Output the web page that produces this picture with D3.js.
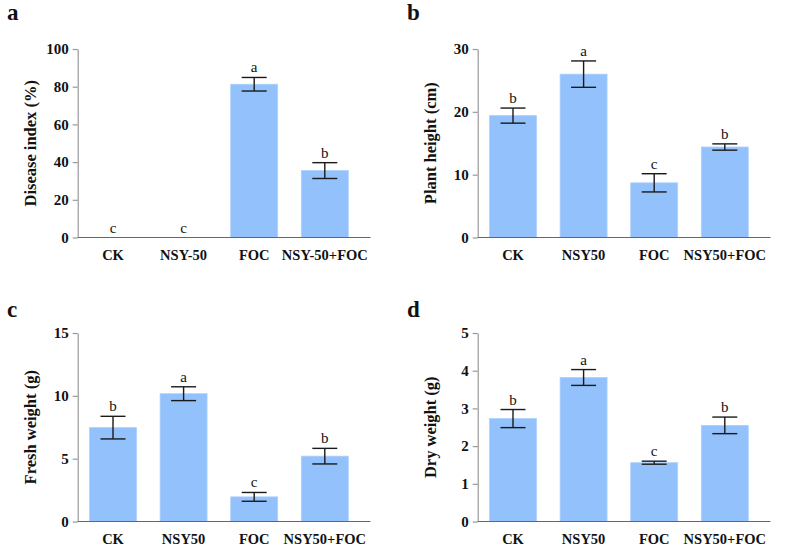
<!DOCTYPE html>
<html><head><meta charset="utf-8">
<script src="https://cdn.jsdelivr.net/npm/d3@7"></script>
<style>body{margin:0;background:#fff}svg{display:block}</style>
</head><body>
<svg id="c" width="787" height="547"></svg>
<script>
const catsA = ["CK","NSY-50","FOC","NSY-50+FOC"];
const catsB = ["CK","NSY50","FOC","NSY50+FOC"];

const diseaseMean = [0, 0, 81.3, 35.5];
const diseaseErr  = [0, 0, 3.6, 4.2];
const diseaseSig  = ["c","c","a","b"];

const heightMean = [19.4, 26.0, 8.7, 14.4];
const heightErr  = [1.2, 2.1, 1.45, 0.5];
const heightSig  = ["b","a","c","b"];

const freshMean = [7.47, 10.17, 1.96, 5.2];
const freshErr  = [0.9, 0.55, 0.35, 0.62];
const freshSig  = ["b","a","c","b"];

const dryMean = [2.73, 3.82, 1.56, 2.55];
const dryErr  = [0.24, 0.21, 0.04, 0.22];
const drySig  = ["b","a","c","b"];

const ticksA = [0,20,40,60,80,100];
const ticksB = [0,10,20,30];
const ticksC = [0,5,10,15];
const ticksD = [0,1,2,3,4,5];

const panels = [
  {letter:"a", cats:catsA, mean:diseaseMean, err:diseaseErr, sig:diseaseSig, ticks:ticksA, title:"Disease index (%)", ox:0, oy:0, ly:20},
  {letter:"b", cats:catsB, mean:heightMean, err:heightErr, sig:heightSig, ticks:ticksB, title:"Plant height (cm)", ox:400, oy:0, ly:20},
  {letter:"c", cats:catsB, mean:freshMean, err:freshErr, sig:freshSig, ticks:ticksC, title:"Fresh weight (g)", ox:0, oy:284, ly:317},
  {letter:"d", cats:catsB, mean:dryMean, err:dryErr, sig:drySig, ticks:ticksD, title:"Dry weight (g)", ox:400, oy:284, ly:317}
];

const svg = d3.select("#c");
const FONT = "'Liberation Serif','Times New Roman',serif";
const barColor = "#93c1fb";

panels.forEach(p => {
  const g = svg.append("g").attr("transform", `translate(${p.ox},${p.oy})`);
  const axX = 77.7, top = 49, bot = 237.5, axEnd = 370.5;
  const x = d3.scaleBand().domain(p.cats).range([axX, axX + 4*70.6]).paddingInner(0.335).paddingOuter(0.1675);
  const y = d3.scaleLinear().domain([0, d3.max(p.ticks)]).range([bot, top]);

  // panel letter
  svg.append("text").attr("x", p.ox + 7).attr("y", p.ly)
    .attr("font-family", FONT).attr("font-weight", "bold").attr("font-size", 23)
    .attr("fill", "#111").text(p.letter);

  // bars
  g.selectAll("rect.bar").data(p.cats).enter().append("rect")
    .attr("x", d => x(d)).attr("width", x.bandwidth())
    .attr("y", (d,i) => y(p.mean[i])).attr("height", (d,i) => bot - y(p.mean[i]))
    .attr("fill", barColor).attr("stroke", "#acd0fb").attr("stroke-width", 0.8);

  // error bars
  const cap = 12.5;
  p.cats.forEach((c,i) => {
    if (p.err[i] <= 0) return;
    const cx = x(c) + x.bandwidth()/2;
    const y1 = y(p.mean[i] + p.err[i]), y0 = y(p.mean[i] - p.err[i]);
    const eg = g.append("g").attr("stroke", "#1a1a1a").attr("stroke-width", 1.4);
    eg.append("line").attr("x1", cx).attr("x2", cx).attr("y1", y1).attr("y2", y0);
    eg.append("line").attr("x1", cx-cap).attr("x2", cx+cap).attr("y1", y1).attr("y2", y1);
    eg.append("line").attr("x1", cx-cap).attr("x2", cx+cap).attr("y1", y0).attr("y2", y0);
  });

  // significance letters
  g.selectAll("text.sig").data(p.cats).enter().append("text")
    .attr("x", d => x(d) + x.bandwidth()/2)
    .attr("y", (d,i) => y(p.mean[i] + p.err[i]) - 5)
    .attr("text-anchor", "middle").attr("font-family", FONT).attr("font-size", 15)
    .attr("fill", "#111")
    .text((d,i) => p.sig[i]);

  // y axis
  const ya = g.append("g").attr("transform", `translate(${axX},0)`)
    .call(d3.axisLeft(y).tickValues(p.ticks).tickFormat(d3.format("d")).tickSize(5).tickPadding(4).tickSizeOuter(0));
  ya.select(".domain").attr("stroke", "#999").attr("stroke-width", 1.2);
  ya.selectAll(".tick line").attr("stroke", "#999").attr("stroke-width", 1.2);
  ya.selectAll(".tick text").attr("font-family", FONT).attr("font-weight", "bold")
    .attr("font-size", 15).attr("fill", "#111");

  // x axis line
  g.append("line").attr("x1", axX).attr("x2", axEnd).attr("y1", bot).attr("y2", bot)
    .attr("stroke", "#666").attr("stroke-width", 1.2);
  const xa = g.append("g").attr("transform", `translate(0,${bot})`)
    .call(d3.axisBottom(x).tickSize(0).tickPadding(12));
  xa.select(".domain").remove();
  xa.selectAll(".tick text").attr("font-family", FONT).attr("font-weight", "bold")
    .attr("font-size", 14.5).attr("fill", "#111");

  // y title
  g.append("text").attr("transform", `translate(36,${(top+bot)/2}) rotate(-90)`)
    .attr("text-anchor", "middle").attr("font-family", FONT).attr("font-weight", "bold")
    .attr("font-size", 16.5).attr("fill", "#111").text(p.title);
});
</script>
</body></html>
